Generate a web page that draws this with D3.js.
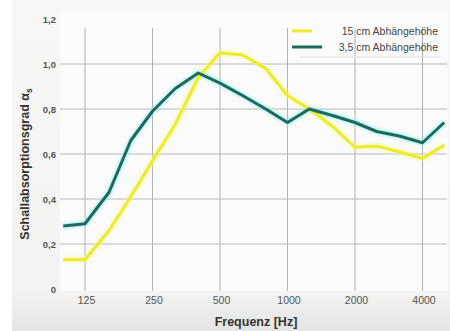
<!DOCTYPE html>
<html><head><meta charset="utf-8">
<script src="https://cdn.jsdelivr.net/npm/d3@7"></script>
<style>body{margin:0;background:#fff}svg{display:block}</style>
</head><body><svg id="c" width="450" height="331"></svg>
<script>
const frequencies = [100,125,160,200,250,315,400,500,630,800,1000,1250,1600,2000,2500,3150,4000,5000];
const series15 = [0.13,0.13,0.26,0.41,0.57,0.73,0.94,1.05,1.04,0.98,0.86,0.80,0.72,0.63,0.635,0.61,0.58,0.64];
const series35 = [0.28,0.29,0.43,0.66,0.79,0.89,0.96,0.915,0.86,0.80,0.74,0.80,0.77,0.74,0.70,0.68,0.65,0.74];
const seriesNames = ["15 cm Abhängehöhe","3,5 cm Abhängehöhe"];
const xTicks = [125,250,500,1000,2000,4000];
const yTicks = [0,0.2,0.4,0.6,0.8,1.0,1.2];
const yTickLabels = ["0","0,2","0,4","0,6","0,8","1,0","1,2"];

const svg = d3.select("#c");
const defs = svg.append("defs");
const bg = defs.append("linearGradient").attr("id","bg").attr("x1",0).attr("y1",0).attr("x2",0).attr("y2",1);
bg.append("stop").attr("offset","0%").attr("stop-color","#f7f7f5");
bg.append("stop").attr("offset","88%").attr("stop-color","#f3f3f2");
bg.append("stop").attr("offset","100%").attr("stop-color","#e4e4e2");
const blur = defs.append("filter").attr("id","blur").attr("x","-5%").attr("y","-5%").attr("width","110%").attr("height","110%");
blur.append("feGaussianBlur").attr("stdDeviation",1.6);

svg.append("rect").attr("x",12).attr("y",0).attr("width",438).attr("height",331).attr("fill","url(#bg)");
svg.append("rect").attr("x",60).attr("y",12).attr("width",388).attr("height",279).attr("fill","#fbfbfb");

const x = d3.scaleLog().base(2).domain([125,4000]).range([85,422.5]);
const y = d3.scaleLinear().domain([0,1.2]).range([289,19]);

// grid
svg.append("g").selectAll("line").data(yTicks.filter(d=>d>0 && d<1.2)).join("line")
  .attr("x1",60).attr("x2",447).attr("y1",d=>y(d)).attr("y2",d=>y(d))
  .attr("stroke","#b8b8b8").attr("stroke-width",1);
svg.append("g").selectAll("line").data(xTicks).join("line")
  .attr("x1",d=>x(d)).attr("x2",d=>x(d)).attr("y1",28).attr("y2",291)
  .attr("stroke","#b0b0b0").attr("stroke-width",1);

// axes labels
const yAxis = d3.axisLeft(y).tickValues(yTicks).tickSize(0).tickPadding(0)
  .tickFormat((d,i)=>yTickLabels[i]);
const gy = svg.append("g").attr("transform","translate(56,0)").call(yAxis);
gy.select(".domain").remove();
gy.selectAll("text").attr("font-family","Liberation Sans, Arial, sans-serif").attr("font-size",9.5).attr("font-weight","bold").attr("fill","#555");

const xAxis = d3.axisBottom(x).tickValues(xTicks).tickSize(0).tickPadding(0).tickFormat(d3.format("d"));
const gx = svg.append("g").attr("transform","translate(1,297)").call(xAxis);
gx.select(".domain").remove();
gx.selectAll("text").attr("font-family","Liberation Sans, Arial, sans-serif").attr("font-size",10.5).attr("fill","#555");

svg.append("text").attr("x",256).attr("y",326).attr("text-anchor","middle")
  .attr("font-family","Liberation Sans, Arial, sans-serif").attr("font-size",12.5).attr("font-weight","bold").attr("fill","#333")
  .text("Frequenz [Hz]");
const yl = svg.append("text").attr("transform","translate(29,164) rotate(-90)").attr("text-anchor","middle")
  .attr("font-family","Liberation Sans, Arial, sans-serif").attr("font-size",12.5).attr("font-weight","bold").attr("fill","#333");
yl.append("tspan").text("Schallabsorptionsgrad α");
yl.append("tspan").attr("font-size",8.5).attr("dy",3).text("s");

// lines
const line = d3.line().x((d,i)=>x(frequencies[i])).y(d=>y(d));
const data = [{v:series15,c:"#ecec2a",glow:"#f6f6a0"},{v:series35,c:"#1d6a5c",glow:"#8ff0ee"}];
data.forEach(s=>{
  svg.append("path").attr("d",line(s.v)).attr("fill","none").attr("stroke",s.glow).attr("stroke-width",6).attr("opacity",0.6).attr("filter","url(#blur)");
});
data.forEach(s=>{
  svg.append("path").attr("d",line(s.v)).attr("fill","none").attr("stroke",s.c).attr("stroke-width",3).attr("stroke-linejoin","round");
});

// legend
const lg = svg.append("g");
lg.append("line").attr("x1",300).attr("x2",440).attr("y1",57).attr("y2",57).attr("stroke","#e0e0e0");
seriesNames.forEach((n,i)=>{
  const yy = 31 + i*16;
  lg.append("line").attr("x1",292).attr("x2",i?322:312).attr("y1",yy).attr("y2",yy).attr("stroke",data[i].c).attr("stroke-width",3);
  lg.append("text").attr("x",438).attr("y",yy+3.5).attr("text-anchor","end")
    .attr("font-family","Liberation Sans, Arial, sans-serif").attr("font-size",10.5).attr("fill","#444").text(n);
});
</script></body></html>
